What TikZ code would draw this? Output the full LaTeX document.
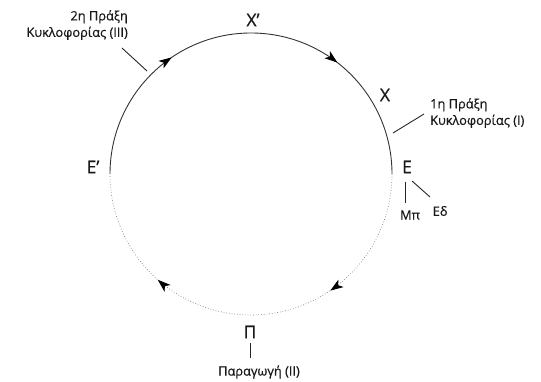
\documentclass[tikz,border=0pt]{standalone}
\usepackage{fontspec}
\setmainfont{Open Sans}[FakeBold=0.6]
\usetikzlibrary{arrows.meta,decorations.markings}
\begin{document}
\begin{tikzpicture}[x=1pt,y=1pt,
  lbl/.style={font=\fontsize{17.5}{17}\selectfont, text=black!90, inner sep=0pt},
  small/.style={font=\fontsize{12.8}{16.5}\selectfont, text=black!90, inner sep=0pt},
  lead/.style={draw=black!85, line width=0.9pt}
]
\tikzset{tip/.tip={Stealth[length=13pt,width=9pt,inset=3.5pt]}}
\useasboundingbox (0,0) rectangle (541,382);
\coordinate (C) at (251,208);
\coordinate (EpPt) at (110,208);
\coordinate (EPt) at (392,208);
% upper solid half
\draw[black!80, line width=0.9pt,
  postaction={decorate, decoration={markings,
    mark=at position 0.31 with {\arrow[black]{tip}},
    mark=at position 0.71 with {\arrow[black]{tip}}}}]
  (EpPt) arc[start angle=180, end angle=0, radius=141];
% lower dotted half
\draw[black!50, line width=0.7pt, dotted,
  postaction={decorate, decoration={markings,
    mark=at position 0.31 with {\arrow[black,solid]{tip}},
    mark=at position 0.73 with {\arrow[black,solid]{tip}}}}]
  (EPt) arc[start angle=0, end angle=-180, radius=141];
% labels
\node[lbl] (Xp) at (253,362) {Χ’};
\node[lbl] (X) at (385,287) {Χ};
\node[lbl] (E) at (407,215) {Ε};
\node[lbl] (Ep) at (93,215) {Ε’};
\node[lbl] (P) at (250,50) {Π};
\node[small] (Prod) at (259,10) {Παραγωγή (II)};
\node[small] (Mp) at (410,167) {Μπ};
\node[small] (Ed) at (440,171) {Εδ};
\node[small, align=left, anchor=west] (Circ1) at (430,269) {1η Πράξη\\Κυκλοφορίας (I)};
\node[small, align=right, anchor=east] (Circ2) at (128,357) {2η Πράξη\\Κυκλοφορίας (III)};
% leader lines
\coordinate (c1a) at (393,249);
\coordinate (c2a) at (147,311);
\draw[lead] (Circ1.west) ++(-6,-1) -- (c1a);
\draw[lead] (122,334) -- (c2a);
\draw[lead] (P.south) ++(0,-5) -- (250,24);
\draw[lead] (405,200) -- (405,179);
\draw[lead] (412,201) -- (430,185);
\end{tikzpicture}
\end{document}
